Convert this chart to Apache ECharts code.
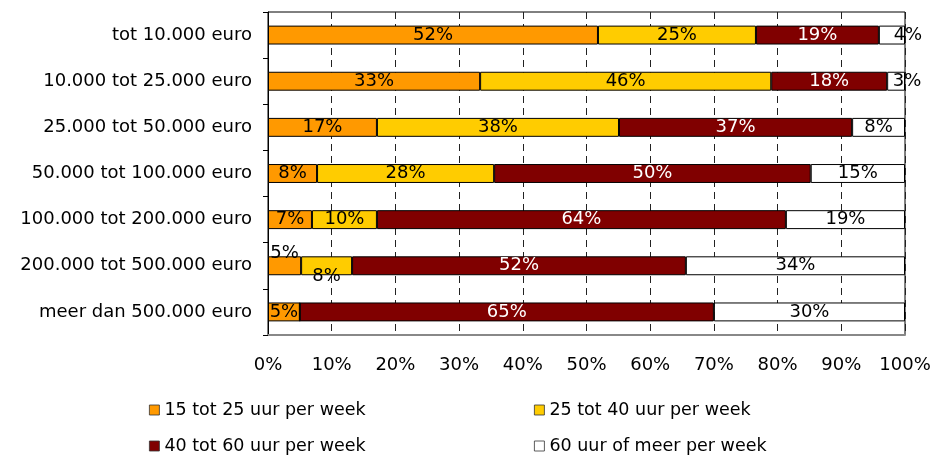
<!DOCTYPE html>
<html>
<head>
<meta charset="utf-8">
<script src="https://cdn.jsdelivr.net/npm/echarts@6/dist/echarts.min.js"></script>
<style>
  html, body { margin: 0; padding: 0; background: #fff; }
  #container { width: 939px; height: 456px; }
</style>
</head>
<body>
<div id="container"></div>
<script>
  // inkomensklassen (van boven naar beneden)
  var categories = ['tot 10.000 euro', '10.000 tot 25.000 euro', '25.000 tot 50.000 euro',
    '50.000 tot 100.000 euro', '100.000 tot 200.000 euro', '200.000 tot 500.000 euro', 'meer dan 500.000 euro'];
  var seriesNames = ['15 tot 25 uur per week', '25 tot 40 uur per week', '40 tot 60 uur per week', '60 uur of meer per week'];
  var uur15tot25 = [51.8, 33.3, 17.1, 7.7, 6.9, 5.2, 5.0];
  var uur25tot40 = [24.8, 45.7, 38.0, 27.8, 10.2, 8.0, 0];
  var uur40tot60 = [19.3, 18.2, 36.6, 49.7, 64.2, 52.4, 65.0];
  var uur60plus = [4.1, 2.8, 8.3, 14.8, 18.7, 34.4, 30.0];
  var xTicks = ['0%', '10%', '20%', '30%', '40%', '50%', '60%', '70%', '80%', '90%', '100%'];

  var colors = ['#FF9900', '#FFCC00', '#800000', '#FFFFFF'];
  var labelColors = ['#000', '#000', '#fff', '#000'];
  // labels die in excel verschoven staan: [serie, categorie, dx, dy]
  var labelShift = [[3, 0, 16, 0], [3, 1, 11, 0], [0, 5, 0, -12], [1, 5, 0, 11]];

  var font = 'Verdana, "DejaVu Sans", sans-serif';
  var values = [uur15tot25, uur25tot40, uur40tot60, uur60plus];

  var series = values.map(function (arr, s) {
    return {
      name: seriesNames[s],
      type: 'bar',
      stack: 'totaal',
      barCategoryGap: '59%',
      itemStyle: { color: colors[s], borderColor: '#000', borderWidth: 1 },
      label: {
        show: true,
        position: 'inside',
        color: labelColors[s],
        fontFamily: font,
        fontSize: 18,
        formatter: function (p) { return p.value ? Math.round(p.value) + '%' : ''; }
      },
      data: arr.map(function (v, c) {
        var item = { value: v };
        labelShift.forEach(function (ls) {
          if (ls[0] === s && ls[1] === c) item.label = { offset: [ls[2], ls[3]] };
        });
        return item;
      })
    };
  });

  var legendPos = [[144, 396], [529, 396], [144, 432], [529, 432]];
  var legends = seriesNames.map(function (n, i) {
    return {
      data: [n],
      left: legendPos[i][0],
      top: legendPos[i][1],
      icon: 'rect',
      itemWidth: 10,
      itemHeight: 10,
      selectedMode: false,
      itemStyle: { borderWidth: 0.8, borderColor: '#333' },
      textStyle: { fontFamily: font, fontSize: 17.5, color: '#000' }
    };
  });

  var myChart = echarts.init(document.getElementById('container'));
  var option = {
    animation: false,
    legend: legends,
    grid: { left: 268, right: 34, top: 12, bottom: 121, show: true, borderColor: '#000', borderWidth: 1 },
    xAxis: {
      type: 'value',
      min: 0,
      max: 100,
      interval: 10,
      axisLine: { show: true, lineStyle: { color: '#888', width: 2 } },
      axisTick: { show: false },
      splitLine: { show: true, lineStyle: { color: '#222', type: [7, 5], width: 1 } },
      axisLabel: {
        margin: 21,
        fontFamily: font,
        fontSize: 18,
        color: '#000',
        formatter: function (v) { return xTicks[Math.round(v / 10)]; }
      }
    },
    yAxis: {
      type: 'category',
      inverse: true,
      data: categories,
      axisLine: { show: true, lineStyle: { color: '#000' } },
      axisTick: { show: true, length: 5, lineStyle: { color: '#000' } },
      axisLabel: { margin: 16, fontFamily: font, fontSize: 18, color: '#000' }
    },
    series: series
  };
  myChart.setOption(option);
</script>
</body>
</html>
